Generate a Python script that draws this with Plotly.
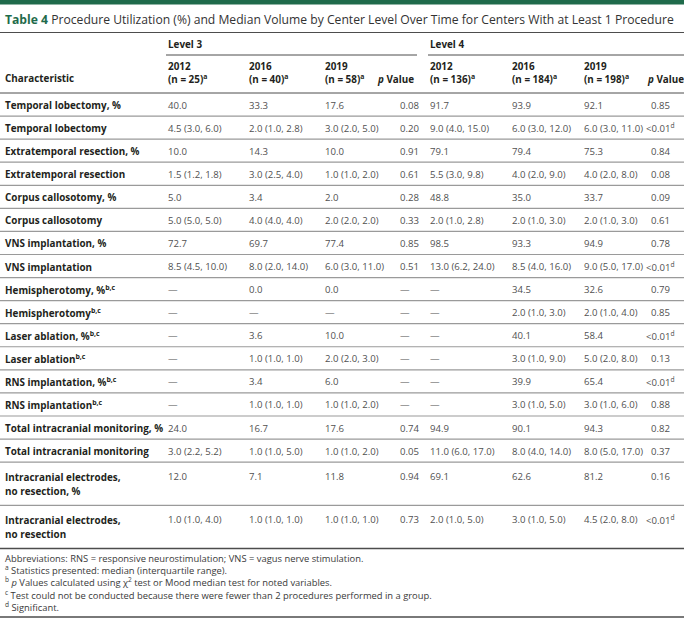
import plotly.graph_objects as go

# ---------------- data ----------------
title_label = "Table 4"
title_text = ("Procedure Utilization (%) and Median Volume by Center Level Over Time "
              "for Centers With at Least 1 Procedure")

group_labels = ["Level 3", "Level 4"]
year_labels = ["2012", "2016", "2019"]
l3_n = ["25", "40", "58"]
l4_n = ["136", "184", "198"]

characteristics = [
    "Temporal lobectomy, %",
    "Temporal lobectomy",
    "Extratemporal resection, %",
    "Extratemporal resection",
    "Corpus callosotomy, %",
    "Corpus callosotomy",
    "VNS implantation, %",
    "VNS implantation",
    "Hemispherotomy, %<sup>b,c</sup>",
    "Hemispherotomy<sup>b,c</sup>",
    "Laser ablation, %<sup>b,c</sup>",
    "Laser ablation<sup>b,c</sup>",
    "RNS implantation, %<sup>b,c</sup>",
    "RNS implantation<sup>b,c</sup>",
    "Total intracranial monitoring, %",
    "Total intracranial monitoring",
    "Intracranial electrodes,<br>no resection, %",
    "Intracranial electrodes,<br>no resection",
]

D = "—"
SIG = "&lt;0.01<sup>d</sup>"

l3_2012 = ["40.0", "4.5 (3.0, 6.0)", "10.0", "1.5 (1.2, 1.8)", "5.0", "5.0 (5.0, 5.0)",
           "72.7", "8.5 (4.5, 10.0)", D, D, D, D, D, D,
           "24.0", "3.0 (2.2, 5.2)", "12.0", "1.0 (1.0, 4.0)"]
l3_2016 = ["33.3", "2.0 (1.0, 2.8)", "14.3", "3.0 (2.5, 4.0)", "3.4", "4.0 (4.0, 4.0)",
           "69.7", "8.0 (2.0, 14.0)", "0.0", D, "3.6", "1.0 (1.0, 1.0)", "3.4", "1.0 (1.0, 1.0)",
           "16.7", "1.0 (1.0, 5.0)", "7.1", "1.0 (1.0, 1.0)"]
l3_2019 = ["17.6", "3.0 (2.0, 5.0)", "10.0", "1.0 (1.0, 2.0)", "2.0", "2.0 (2.0, 2.0)",
           "77.4", "6.0 (3.0, 11.0)", "0.0", D, "10.0", "2.0 (2.0, 3.0)", "6.0", "1.0 (1.0, 2.0)",
           "17.6", "1.0 (1.0, 2.0)", "11.8", "1.0 (1.0, 1.0)"]
l3_p = ["0.08", "0.20", "0.91", "0.61", "0.28", "0.33",
        "0.85", "0.51", D, D, D, D, D, D,
        "0.74", "0.05", "0.94", "0.73"]

l4_2012 = ["91.7", "9.0 (4.0, 15.0)", "79.1", "5.5 (3.0, 9.8)", "48.8", "2.0 (1.0, 2.8)",
           "98.5", "13.0 (6.2, 24.0)", D, D, D, D, D, D,
           "94.9", "11.0 (6.0, 17.0)", "69.1", "2.0 (1.0, 5.0)"]
l4_2016 = ["93.9", "6.0 (3.0, 12.0)", "79.4", "4.0 (2.0, 9.0)", "35.0", "2.0 (1.0, 3.0)",
           "93.3", "8.5 (4.0, 16.0)", "34.5", "2.0 (1.0, 3.0)", "40.1", "3.0 (1.0, 9.0)",
           "39.9", "3.0 (1.0, 5.0)", "90.1", "8.0 (4.0, 14.0)", "62.6", "3.0 (1.0, 5.0)"]
l4_2019 = ["92.1", "6.0 (3.0, 11.0)", "75.3", "4.0 (2.0, 8.0)", "33.7", "2.0 (1.0, 3.0)",
           "94.9", "9.0 (5.0, 17.0)", "32.6", "2.0 (1.0, 4.0)", "58.4", "5.0 (2.0, 8.0)",
           "65.4", "3.0 (1.0, 6.0)", "94.3", "8.0 (5.0, 17.0)", "81.2", "4.5 (2.0, 8.0)"]
l4_p = ["0.85", SIG, "0.84", "0.08", "0.09", "0.61",
        "0.78", SIG, "0.79", "0.85", SIG, "0.13",
        SIG, "0.88", "0.82", "0.37", "0.16", SIG]

footnotes = [
    "Abbreviations: RNS = responsive neurostimulation; VNS = vagus nerve stimulation.",
    "<sup>a</sup> Statistics presented: median (interquartile range).",
    "<sup>b</sup> <i>p</i> Values calculated using χ<sup>2</sup> test or Mood median test for noted variables.",
    "<sup>c</sup> Test could not be conducted because there were fewer than 2 procedures performed in a group.",
    "<sup>d</sup> Significant.",
]

# ---------------- layout constants ----------------
W, H = 684, 619
FONT = "Open Sans"
GREEN = "#1f6b4b"
DARK = "#231f20"
BODY = "#505050"
RULE_DARK = "#4d4d4d"
RULE_LIGHT = "#9a9a9a"
FS = 9.9
FS_DATA = 9.6

X_CHAR = 3
X_L3 = [166, 247, 323]
X_L3P = 398
X_L4 = [428, 510, 582]
X_L4P = 660

ROW_H = 23.07
ROW_H2 = 43.2
LINE_GAP = 14
HEADER_BOTTOM = 93

fig = go.Figure()
ann = []
shapes = []


def text(x, y, s, size=FS, color=BODY, weight=None, xanchor="left"):
    f = dict(family=FONT, size=size, color=color)
    if weight:
        f["weight"] = weight
    ann.append(dict(x=x, y=y, xref="x", yref="y", text=s, showarrow=False,
                    xanchor=xanchor, yanchor="middle", font=f, align="left"))


def hline(x0, x1, y, color, width):
    shapes.append(dict(type="line", xref="x", yref="y", x0=x0, x1=x1, y0=y, y1=y,
                       line=dict(color=color, width=width)))


# top bar
shapes.append(dict(type="rect", xref="x", yref="y", x0=0, x1=W, y0=0, y1=4.5,
                   fillcolor=GREEN, line=dict(width=0)))
# title
text(X_CHAR, 19.5, f"<span style='color:{GREEN}'><b>{title_label}</b></span> {title_text}",
     size=12.15, color="#333333")
hline(0, W, 32.5, RULE_DARK, 1)

# group headers
text(X_L3[0], 44, f"<b>{group_labels[0]}</b>", color=DARK)
text(X_L4[0], 44, f"<b>{group_labels[1]}</b>", color=DARK)
hline(X_L3[0], 417, 55, RULE_DARK, 1)
hline(X_L4[0], W, 55, RULE_DARK, 1)

# column headers
text(X_CHAR, 78, "<b>Characteristic</b>", color=DARK)
for xs, ns in ((X_L3, l3_n), (X_L4, l4_n)):
    for x, yr, n in zip(xs, year_labels, ns):
        text(x, 65.5, f"<b>{yr}</b>", color=DARK)
        text(x, 79, f"<b>(n = {n})<sup>a</sup></b>", color=DARK)
text(416, 79, "<b><i>p</i> Value</b>", color=DARK, xanchor="right")
text(645, 79, "<b><i>p</i> Value</b>", color=DARK, xanchor="left")
hline(0, W, HEADER_BOTTOM, RULE_DARK, 1)

# body rows
top = HEADER_BOTTOM
for i, label in enumerate(characteristics):
    lines = label.split("<br>")
    h = ROW_H if len(lines) == 1 else ROW_H2
    y1 = top + (ROW_H / 2 + 0.5 if len(lines) == 1 else 14.5)
    for k, ln in enumerate(lines):
        text(X_CHAR, y1 + k * LINE_GAP, f"<b>{ln}</b>", color=DARK)
    for x, col in zip(X_L3, (l3_2012, l3_2016, l3_2019)):
        text(x, y1, col[i], size=FS_DATA)
    text(X_L3P, y1, l3_p[i], size=FS_DATA)
    for x, col in zip(X_L4, (l4_2012, l4_2016, l4_2019)):
        text(x, y1, col[i], size=FS_DATA)
    text(X_L4P, y1, l4_p[i], size=FS_DATA, xanchor="center")
    top += h
    last = i == len(characteristics) - 1
    hline(0, W, top, RULE_DARK if last else RULE_LIGHT, 1.5 if last else 1.2)

# footnotes (one multi-line block)
fy = top + 10.5
text(X_CHAR, fy + 2 * 12, "<br>".join(footnotes), size=9.4, color="#3a3a3a")
hline(0, W, fy + 4 * 12 + 10, RULE_DARK, 1.5)

fig.update_layout(
    width=W, height=H,
    margin=dict(l=0, r=0, t=0, b=0),
    paper_bgcolor="white", plot_bgcolor="white",
    xaxis=dict(range=[0, W], visible=False, fixedrange=True),
    yaxis=dict(range=[H, 0], visible=False, fixedrange=True),
    annotations=ann, shapes=shapes, showlegend=False,
)
fig.write_html("out.html", config={"displayModeBar": False},
               post_script="document.body.style.margin='0';")
